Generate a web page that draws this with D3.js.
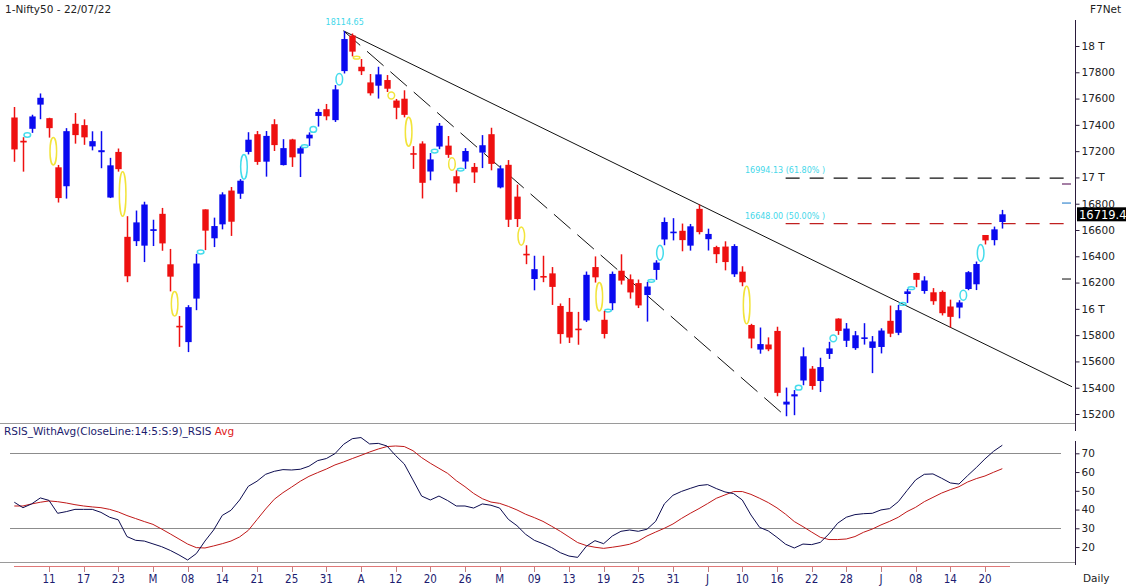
<!DOCTYPE html>
<html><head><meta charset="utf-8">
<script src="https://cdn.jsdelivr.net/npm/d3@7"></script>
<style>body{margin:0;background:#fff}svg{display:block}</style>
</head><body>
<svg id="c" width="1126" height="587"></svg>
<script>
const dates = [
"2022-02-07","2022-02-08","2022-02-09","2022-02-10","2022-02-11","2022-02-14","2022-02-15","2022-02-16","2022-02-17","2022-02-18","2022-02-21","2022-02-22","2022-02-23","2022-02-24","2022-02-25","2022-02-28",
"2022-03-02","2022-03-03","2022-03-04","2022-03-07","2022-03-08","2022-03-09","2022-03-10","2022-03-11","2022-03-14","2022-03-15","2022-03-16","2022-03-17","2022-03-21","2022-03-22","2022-03-23","2022-03-24","2022-03-25","2022-03-28","2022-03-29","2022-03-30","2022-03-31",
"2022-04-01","2022-04-04","2022-04-05","2022-04-06","2022-04-07","2022-04-08","2022-04-11","2022-04-12","2022-04-13","2022-04-18","2022-04-19","2022-04-20","2022-04-21","2022-04-22","2022-04-25","2022-04-26","2022-04-27","2022-04-28","2022-04-29",
"2022-05-02","2022-05-04","2022-05-05","2022-05-06","2022-05-09","2022-05-10","2022-05-11","2022-05-12","2022-05-13","2022-05-16","2022-05-17","2022-05-18","2022-05-19","2022-05-20","2022-05-23","2022-05-24","2022-05-25","2022-05-26","2022-05-27","2022-05-30","2022-05-31",
"2022-06-01","2022-06-02","2022-06-03","2022-06-06","2022-06-07","2022-06-08","2022-06-09","2022-06-10","2022-06-13","2022-06-14","2022-06-15","2022-06-16","2022-06-17","2022-06-20","2022-06-21","2022-06-22","2022-06-23","2022-06-24","2022-06-27","2022-06-28","2022-06-29","2022-06-30",
"2022-07-01","2022-07-04","2022-07-05","2022-07-06","2022-07-07","2022-07-08","2022-07-11","2022-07-12","2022-07-13","2022-07-14","2022-07-15","2022-07-18","2022-07-19","2022-07-20","2022-07-21","2022-07-22"];

const opens = [17456,17279,17370,17554,17451,17077,16933,17408,17398,17236,17192,16847,17194,16548,16515,16481,
16593,16723,16339,15867,15747,16078,16757,16537,16643,16900,16876,17194,17329,17120,17405,17094,17289,17181,17297,17468,17519,
17436,17809,18080,17842,17723,17698,17741,17585,17599,17183,17258,17045,17235,17242,17009,17121,17080,17189,17329,
16924,17096,16854,16415,16227,16248,16270,16022,15977,15845,15912,16318,15917,16043,16290,16225,16196,16105,16296,16528,16578,
16594,16481,16761,16530,16470,16474,16263,16283,15877,15690,15729,15832,15272,15334,15455,15545,15451,15657,15926,15757,15701,15774,
15703,15710,15909,15818,16113,16273,16136,16126,16129,16018,16010,16151,16187,16562,16523,16661];
const highs = [17536,17306,17477,17639,17454,17095,17375,17490,17442,17351,17352,17149,17220,16705,16748,16815,
16678,16768,16456,15945,16028,16418,16757,16694,16887,16927,16987,17344,17353,17353,17443,17291,17294,17235,17343,17522,17559,
17703,18114.65,18095,17901,17787,17842,17779,17597,17663,17238,17275,17186,17414,17315,17054,17223,17110,17322,17378,
17092,17132,16945,16484,16404,16404,16318,16041,16083,15977,16284,16399,15984,16284,16415,16262,16223,16205,16370,16695,16690,
16649,16646,16794,16610,16480,16514,16492,16324,15886,15858,15783,15864,15401,15382,15707,15565,15628,15749,15928,15892,15831,15891,
15793,15852,16025,16030,16150,16275,16248,16158,16140,16070,16066,16287,16360,16562,16626,16753];
const lows = [17119,17044,17339,17443,17303,16809,16839,17257,17248,17206,17070,16843,17044,16203,16478,16356,
16478,16442,16133,15711,15671,15990,16447,16470,16605,16555,16837,17175,17096,17006,17201,17091,17080,17003,17240,17387,17435,
17422,17791,17921,17779,17623,17600,17650,17443,17457,17065,16840,16978,17215,17149,16888,17065,16958,17071,17054,
16917,16623,16623,16340,16141,16203,16030,15735,15740,15727,15900,16200,15775,15990,16185,16078,16006,15903,16221,16484,16521,
16438,16443,16567,16444,16348,16293,16243,16172,15700,15659,15678,15335,15183,15191,15419,15385,15367,15619,15802,15710,15688,15728,
15511,15661,15785,15800,16045,16165,16115,16031,15950,15858,15928,16142,16143,16490,16483,16611];
const closes = [17213,17266,17464,17606,17375,16843,17352,17322,17305,17276,17207,17092,17063,16248,16658,16794,
16606,16498,16245,15863,16013,16345,16595,16630,16871,16663,16975,17287,17118,17316,17246,17223,17153,17222,17325,17498,17465,
17670,18053,17957,17808,17640,17784,17675,17530,17476,17174,16959,17137,17393,17172,16954,17201,17038,17245,17103,
17069,16678,16683,16411,16302,16240,16167,15808,15782,15842,16259,16240,15809,16266,16215,16125,16026,16170,16352,16661,16585,
16523,16628,16584,16570,16416,16356,16478,16202,15774,15732,15692,15361,15294,15350,15639,15413,15557,15699,15832,15850,15799,15780,
15752,15835,15811,15990,16133,16221,16216,16058,15967,15939,16049,16279,16341,16521,16605,16719.4];

const rsiValues = [43.9,41.0,43.0,46.2,44.9,38.0,38.9,40.1,40.1,40.1,38.5,35.9,34.5,25.6,23.6,23.2,21.7,20.2,18.2,15.8,13.1,16.5,23.2,29.1,36.9,39.6,45.1,52.4,55.1,58.8,
60.4,61.3,61.1,61.5,63.1,66.1,67.2,69.8,74.8,77.8,78.4,75.0,75.3,73.9,68.8,64.3,55.8,47.2,45.1,47.2,44.8,41.9,41.9,40.8,43.0,42.3,40.8,34.8,31.4,26.8,
23.6,21.8,19.7,17.0,15.2,14.5,20.4,23.4,21.8,25.9,28.4,29.1,28.4,29.5,33.7,43.0,47.6,49.7,51.3,52.8,53.3,51.2,49.4,48.5,45.1,37.1,30.5,28.6,25.2,21.5,
19.5,21.6,21.3,22.5,27.0,32.7,35.9,37.3,37.8,38.0,39.8,40.5,44.2,50.1,55.8,58.8,59.0,56.7,54.2,53.6,58.1,62.4,67.0,71.1,74.3];
const rsiAvg = [41.9,41.9,43.0,43.9,44.6,44.2,43.5,42.6,41.9,41.4,41.0,40.1,38.7,36.8,35.2,33.6,32.1,29.6,27.0,24.3,21.6,19.7,19.5,20.6,21.8,23.2,25.4,28.9,34.6,40.3,
45.5,49.0,52.0,55.1,57.7,59.7,61.6,63.8,65.4,67.2,68.9,70.7,72.3,73.6,73.9,73.6,71.4,67.7,64.7,62.0,59.3,55.4,52.2,48.6,45.8,44.0,43.3,41.7,39.8,37.5,
35.7,33.7,31.1,28.4,25.4,22.4,20.8,19.9,19.3,19.9,20.6,21.5,23.2,25.9,28.0,30.0,32.3,35.3,38.0,40.5,43.2,46.0,47.8,49.6,49.6,48.1,46.0,43.7,40.9,37.5,
33.6,30.9,28.0,25.2,24.0,24.0,24.3,25.6,27.9,29.6,31.8,33.7,35.9,38.9,41.2,44.2,46.5,48.8,50.6,52.2,54.7,56.5,57.9,59.9,61.8];

const priceTicks = [18000,17800,17600,17400,17200,17000,16800,16600,16400,16200,16000,15800,15600,15400,15200];
const priceTickLabels = ["18 T","17800","17600","17400","17200","17 T","16800","16600","16400","16200","16 T","15800","15600","15400","15200"];
const rsiTicks = [70,60,50,40,30,20];
const rsiGuides = [70,30];
const xTickDates = ["2022-02-11","2022-02-17","2022-02-23","2022-03-02","2022-03-08","2022-03-14","2022-03-21","2022-03-25","2022-03-31","2022-04-06","2022-04-12","2022-04-20","2022-04-26","2022-05-02","2022-05-09","2022-05-13","2022-05-19","2022-05-25","2022-05-31","2022-06-06","2022-06-10","2022-06-16","2022-06-22","2022-06-28","2022-07-04","2022-07-08","2022-07-14","2022-07-20"];
const xTickLabels = ["11","17","23","M","08","14","21","25","31","A","12","20","26","M","09","13","19","25","31","J","10","16","22","28","J","08","14","20"];
const fibValues = [16994.13, 16648.00];
const fibPercents = ["61.80%", "50.00%"];
const sideMarkValues = [16950, 16805, 16227];
const peakValue = 18114.65;
const lastValue = 16719.4;

const svg = d3.select("#c");
const W = 1126;
const axisX = 1075;
const x = d3.scaleLinear().domain([0, dates.length - 1]).range([14.3, 1002.3]);
const yP = d3.scaleLinear().domain([15200, 18000]).range([414, 46]);
const yR = d3.scaleLinear().domain([30, 70]).range([528.3, 453.3]);
const FONT = "'DejaVu Sans', Verdana, sans-serif";

// frame lines
svg.append("line").attr("x1",0).attr("x2",axisX).attr("y1",423.5).attr("y2",423.5).attr("stroke","#9a9a9a");
svg.append("line").attr("x1",0).attr("x2",axisX).attr("y1",562.5).attr("y2",562.5).attr("stroke","#9a9a9a");
svg.selectAll(".guide").data(rsiGuides).join("line")
  .attr("x1",10).attr("x2",1061).attr("y1",d=>Math.round(yR(d))+0.5).attr("y2",d=>Math.round(yR(d))+0.5)
  .attr("stroke","#8c8c8c");

// title
svg.append("text").attr("x",5).attr("y",13).attr("font-family",FONT).attr("font-size",10.5).attr("fill","#222").text("1-Nifty50 - 22/07/22");
svg.append("text").attr("x",1090).attr("y",13).attr("font-family",FONT).attr("font-size",10.5).attr("fill","#222").text("F7Net");

// right price axis
const pAxis = d3.axisRight(yP).tickValues(priceTicks).tickSize(4).tickPadding(2)
  .tickFormat((d,i)=>priceTickLabels[i]);
const gp = svg.append("g").attr("transform",`translate(${axisX+0.5},0)`).call(pAxis);
gp.select(".domain").remove();
gp.selectAll("line").attr("stroke","#2b1b3b");
gp.selectAll("text").attr("font-family",FONT).attr("font-size",10.5).attr("fill","#222");
svg.append("line").attr("x1",axisX+0.5).attr("x2",axisX+0.5).attr("y1",20).attr("y2",431).attr("stroke","#2b1b3b");

const rAxis = d3.axisRight(yR).tickValues(rsiTicks).tickSize(4).tickPadding(2);
const gr = svg.append("g").attr("transform",`translate(${axisX+0.5},0)`).call(rAxis);
gr.select(".domain").remove();
gr.selectAll("line").attr("stroke","#2b1b3b");
gr.selectAll("text").attr("font-family",FONT).attr("font-size",10.5).attr("fill","#222");
svg.append("line").attr("x1",axisX+0.5).attr("x2",axisX+0.5).attr("y1",441).attr("y2",565).attr("stroke","#2b1b3b");

// side marks near axis
const sideColors = ["#6a2a6a","#3a8ad0","#333"];
svg.selectAll(".side").data(sideMarkValues).join("line")
  .attr("x1",1062).attr("x2",1071).attr("y1",d=>yP(d)).attr("y2",d=>yP(d))
  .attr("stroke",(d,i)=>sideColors[i]).attr("stroke-width",1.2);

// fib levels
const fibColors = ["#111","#c02020"];
svg.selectAll(".fib").data(fibValues).join("line")
  .attr("x1",x(89)).attr("x2",1072).attr("y1",d=>yP(d)).attr("y2",d=>yP(d))
  .attr("stroke",(d,i)=>fibColors[i]).attr("stroke-width",1.2).attr("stroke-dasharray","14,10");
svg.selectAll(".fibt").data(fibValues).join("text")
  .attr("x",745).attr("y",d=>yP(d)-5).attr("font-family",FONT).attr("font-size",8).attr("fill","#44d8ea")
  .text((d,i)=>`${d.toFixed(2)} (${fibPercents[i]} )`);

// trendlines
const iPeak = 38, iH2 = 79, iLow = 89;
const slope = (highs[iH2]-highs[iPeak])/(iH2-iPeak);
const iEnd = x.invert(1072);
svg.append("line").attr("x1",x(iPeak)).attr("y1",yP(highs[iPeak]))
  .attr("x2",x(iEnd)).attr("y2",yP(highs[iPeak]+slope*(iEnd-iPeak)))
  .attr("stroke","#111").attr("stroke-width",1);
svg.append("line").attr("x1",x(iPeak)).attr("y1",yP(highs[iPeak]))
  .attr("x2",x(iLow)).attr("y2",yP(lows[iLow]))
  .attr("stroke","#111").attr("stroke-width",1).attr("stroke-dasharray","22,9");

// gap markers
const gaps = [];
for (let i=1;i<dates.length;i++){
  if (lows[i] > highs[i-1]) gaps.push({i, a:highs[i-1], b:lows[i], up:true});
  else if (highs[i] < lows[i-1]) gaps.push({i, a:highs[i], b:lows[i-1], up:false});
}
svg.selectAll(".gap").data(gaps).join("ellipse")
  .attr("cx",d=>(x(d.i)+x(d.i-1))/2)
  .attr("cy",d=>(yP(d.a)+yP(d.b))/2)
  .attr("rx",3.3)
  .attr("ry",d=>Math.max(Math.abs(yP(d.a)-yP(d.b))/2,1.4))
  .attr("fill","none").attr("stroke",d=>d.up?"#44dcec":"#f2e43a").attr("stroke-width",1.5);

// candles
const idx = d3.range(dates.length);
const col = i => closes[i] < opens[i] ? "#ee1010" : "#0a0af0";
svg.selectAll(".wick").data(idx).join("line")
  .attr("x1",i=>Math.round(x(i))+0.5).attr("x2",i=>Math.round(x(i))+0.5)
  .attr("y1",i=>yP(highs[i])).attr("y2",i=>yP(lows[i]))
  .attr("stroke",col).attr("stroke-width",1.5);
svg.selectAll(".body").data(idx).join("rect")
  .attr("x",i=>Math.round(x(i))+0.5-3.2).attr("width",6.4)
  .attr("y",i=>{const a=yP(opens[i]),b=yP(closes[i]);return Math.abs(a-b)<1.6?(a+b)/2-0.8:Math.min(a,b);})
  .attr("height",i=>Math.max(Math.abs(yP(opens[i])-yP(closes[i])),1.6))
  .attr("fill",col);

// peak label
svg.append("text").attr("x",x(iPeak)+1).attr("y",yP(peakValue)-6).attr("text-anchor","middle")
  .attr("font-family",FONT).attr("font-size",8).attr("fill","#44d8ea").text(peakValue.toFixed(2));

// last price tag
svg.append("rect").attr("x",1077).attr("y",yP(lastValue)-7).attr("width",49).attr("height",14).attr("fill","#000");
svg.append("text").attr("x",1079).attr("y",yP(lastValue)+4.5).attr("font-family",FONT).attr("font-size",11.5)
  .attr("fill","#fff").text(lastValue.toFixed(1));

// RSI panel
const t = svg.append("text").attr("x",4).attr("y",435).attr("font-family",FONT).attr("font-size",10.5);
t.append("tspan").attr("fill","#1c1c6e").text("RSIS_WithAvg(CloseLine:14:5:S:9)_RSIS ");
t.append("tspan").attr("fill","#e02020").text("Avg");
const line = d3.line().x((d,i)=>x(i)).y(d=>yR(d)).curve(d3.curveLinear);
svg.append("path").datum(rsiAvg).attr("d",line).attr("fill","none").attr("stroke","#c01818").attr("stroke-width",1);
svg.append("path").datum(rsiValues).attr("d",line).attr("fill","none").attr("stroke","#0c0c50").attr("stroke-width",1);

// x axis
svg.append("line").attr("x1",14).attr("x2",1010).attr("y1",566.5).attr("y2",566.5).attr("stroke","#e07878");
const tickIdx = xTickDates.map(d=>dates.indexOf(d));
svg.selectAll(".xt").data(tickIdx).join("line")
  .attr("x1",i=>Math.round(x(i))+0.5).attr("x2",i=>Math.round(x(i))+0.5).attr("y1",567).attr("y2",572)
  .attr("stroke","#c08080");
svg.selectAll(".xl").data(tickIdx).join("text")
  .attr("x",i=>x(i)).attr("y",583).attr("text-anchor","middle")
  .attr("font-family","'Liberation Sans Narrow','DejaVu Sans Condensed',sans-serif").attr("font-stretch","condensed")
  .attr("font-size",11.5).attr("fill","#1c1c70").text((d,i)=>xTickLabels[i]);
svg.append("text").attr("x",1083).attr("y",582).attr("font-family",FONT).attr("font-size",10.5).attr("fill","#222").text("Daily");
</script>
</body></html>
